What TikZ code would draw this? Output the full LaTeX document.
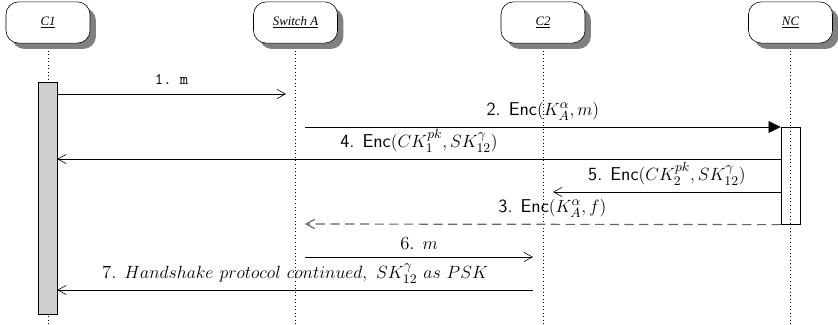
\documentclass[tikz,border=0pt]{standalone}
\usepackage{fontspec}
\newfontfamily\headfont{Liberation Serif}
\usetikzlibrary{arrows.meta,shadows}

\tikzset{
  inst/.style={rectangle, draw, rounded corners=3mm, minimum width=2cm, minimum height=0.98cm,
    fill=white, drop shadow={shadow xshift=0.14cm, shadow yshift=-0.14cm, fill=black!50, opacity=1},
    font=\headfont\itshape\fontsize{8.7}{10}\selectfont},
  lifeline/.style={dotted},
  callbar/.style={draw, minimum width=0.45cm, inner sep=0pt, anchor=north},
  msg/.style={-{Straight Barb[length=2mm,width=2.2mm]}},
  lbl/.style={above, inner sep=4.5pt, font=\fontsize{12.6}{15}\selectfont},
}

\begin{document}
\begin{tikzpicture}[x=0.02381cm, y=-0.02381cm]
    \useasboundingbox (0,0) rectangle (838,324);
    % lifelines
    \coordinate (c1end) at (48,324);
    \coordinate (swaend) at (295.5,324);
    \coordinate (c2end) at (543,324);
    \coordinate (ncend) at (790.5,324);
    \draw[lifeline] (48,40) -- (c1end);
    \draw[lifeline] (295.5,40) -- (swaend);
    \draw[lifeline] (543,40) -- (c2end);
    \draw[lifeline] (790.5,40) -- (ncend);
    % instances
    \node[inst] (c1) at (48,22.5) {\underline{C1}};
    \node[inst] (swa) at (295.5,22.5) {\underline{Switch A}};
    \node[inst] (c2) at (543,22.5) {\underline{C2}};
    \node[inst] (nc) at (790.5,22.5) {\underline{NC}};
    % activations
    \node[callbar, fill=black!19, minimum height=5.524cm] (c1bar) at (47.5,82) {};
    \node[callbar, fill=white, minimum height=2.31cm] (ncbar) at (790.5,127) {};
    \draw[lifeline] (ncbar.north) -- (ncbar.south);
    % messages
    \coordinate (m1b) at (286,94);
    \coordinate (m2a) at (305,127);
    \coordinate (m4y) at (0,159);
    \coordinate (m5b) at (553,192);
    \coordinate (m3b) at (305,224);
    \coordinate (m6a) at (305,257);
    \coordinate (m6b) at (533,257);
    \coordinate (m7a) at (533,290);
    \draw[msg] (c1bar.east |- m1b) -- node[lbl, inner sep=6pt, font=\fontsize{11}{13}\selectfont] {\texttt{1.~m}} (m1b);
    \draw[-{Triangle[length=2.9mm,width=2.8mm]}] (m2a) -- node[lbl] {\textsf{2. Enc}$(K_A^{\alpha}, m)$} (ncbar.north west);
    \draw[msg] (ncbar.west |- m4y) -- node[lbl] {\textsf{4. Enc}$(CK_1^{pk}, SK_{12}^{\gamma})$} (c1bar.east |- m4y);
    \draw[msg] (ncbar.west |- m5b) -- node[lbl] {\textsf{5. Enc}$(CK_2^{pk}, SK_{12}^{\gamma})$} (m5b);
    \draw[msg, black!60, dash pattern=on 2.2mm off 1.3mm, thick] (ncbar.south west) -- node[lbl, pos=0.48, black] {\textsf{3. Enc}$(K_A^{\alpha}, f)$} (m3b);
    \draw[msg] (m6a) -- node[lbl] {6. $m$} (m6b);
    \draw[msg] (m7a) -- node[lbl] {7. $Handshake\ protocol\ continued,\ SK_{12}^{\gamma}\ as\ PSK$} (c1bar.east |- m7a);
\end{tikzpicture}
\end{document}
